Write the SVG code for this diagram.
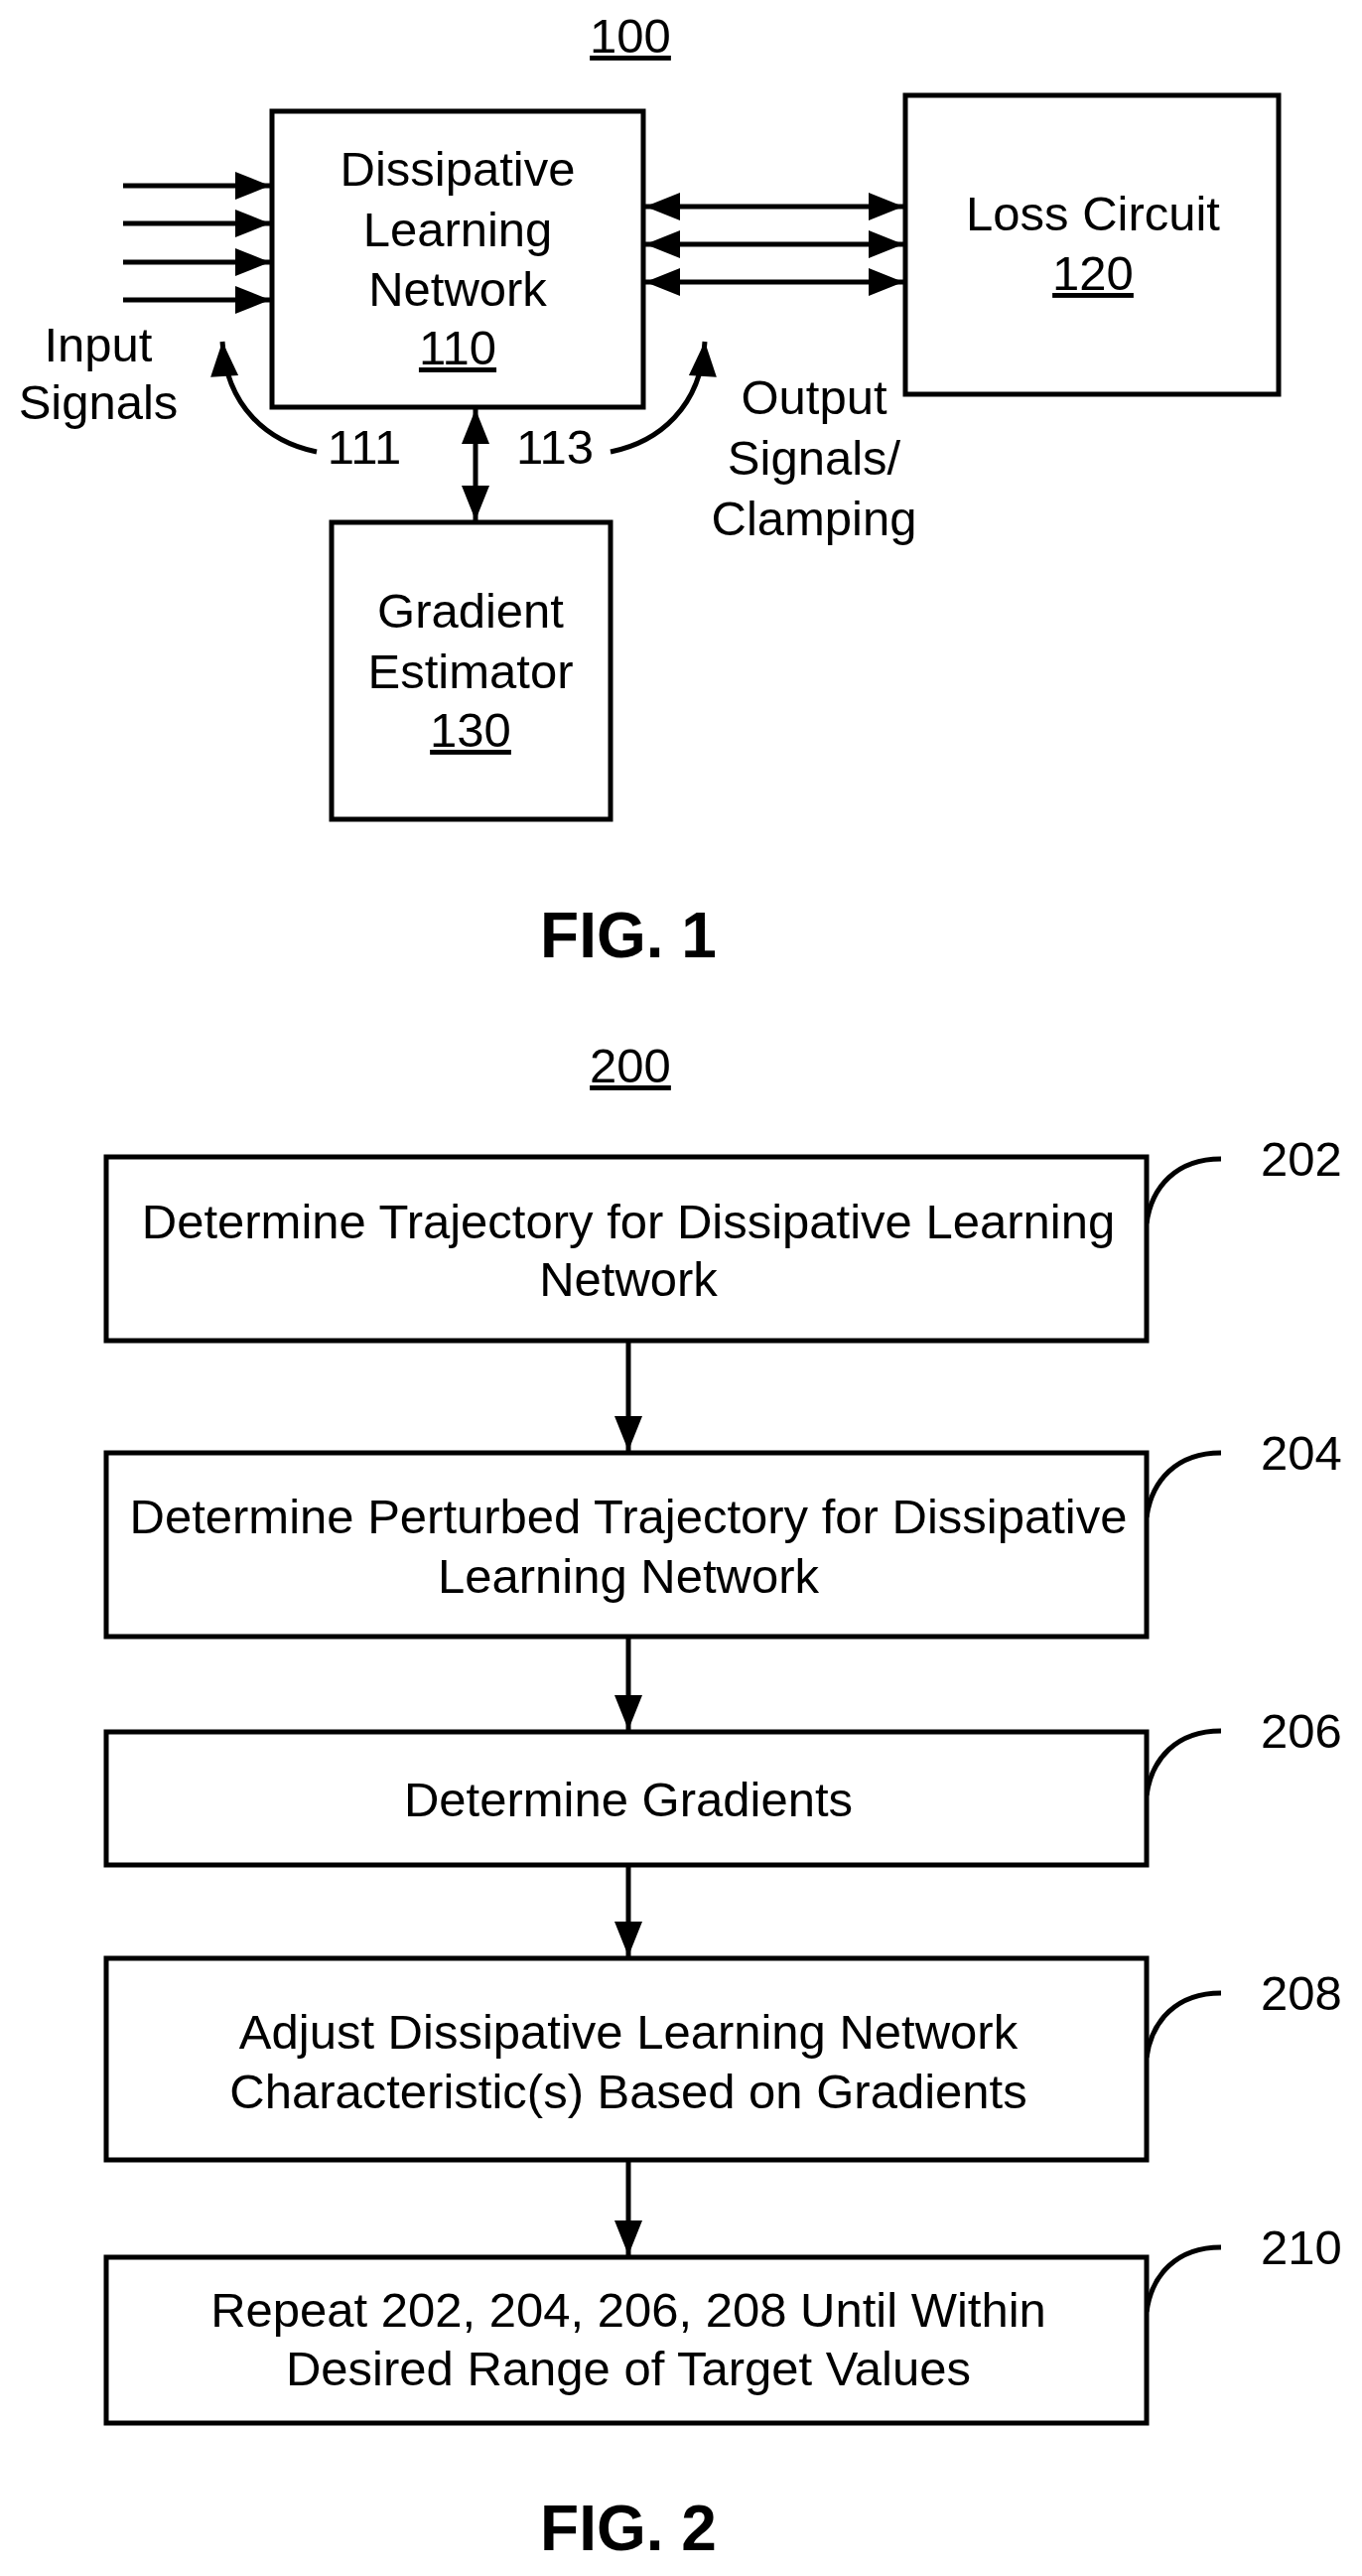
<svg xmlns="http://www.w3.org/2000/svg" width="1372" height="2594" viewBox="0 0 1372 2594">
<defs>
<marker id="ah" viewBox="0 0 10 10" refX="10" refY="5" markerWidth="8" markerHeight="7" orient="auto-start-reverse" markerUnits="strokeWidth"><path d="M0,1 L10,5 L0,9 z" fill="#000"/></marker>
<style>
text{font-family:"Liberation Sans",Arial,sans-serif;font-size:49px;fill:#000;text-anchor:middle}
.b{fill:#fff;stroke:#000;stroke-width:5}
.c{fill:none;stroke:#000;stroke-width:5}
.u{text-decoration:underline}
.fig{font-weight:bold;font-size:64px}
</style>
</defs>
<rect width="1372" height="2594" fill="#fff"/>
<text x="635" y="53" class="u">100</text>
<g id="n110"><rect class="b" x="274" y="112" width="374" height="298"/>
<text x="461" y="187">Dissipative</text><text x="461" y="248">Learning</text><text x="461" y="308">Network</text><text x="461" y="367" class="u">110</text></g>
<g id="n120"><rect class="b" x="912" y="96" width="376" height="301"/>
<text x="1101" y="232">Loss Circuit</text><text x="1101" y="292" class="u">120</text></g>
<g id="n130"><rect class="b" x="334" y="526" width="281" height="299"/>
<text x="474" y="632">Gradient</text><text x="474" y="693">Estimator</text><text x="474" y="752" class="u">130</text></g>
<g id="labels">
<text x="99" y="364">Input</text><text x="99" y="422">Signals</text>
<text x="367" y="467">111</text><text x="559" y="467">113</text>
<text x="820" y="417">Output</text><text x="820" y="478">Signals/</text><text x="820" y="539">Clamping</text>
<text x="633" y="964" class="fig">FIG. 1</text>
<text x="635" y="1090" class="u">200</text>
<text x="633" y="2568" class="fig">FIG. 2</text>
</g>
<g id="connectors">
<line class="c" x1="124" y1="187" x2="272" y2="187" marker-end="url(#ah)"/>
<line class="c" x1="124" y1="225" x2="272" y2="225" marker-end="url(#ah)"/>
<line class="c" x1="124" y1="264" x2="272" y2="264" marker-end="url(#ah)"/>
<line class="c" x1="124" y1="302" x2="272" y2="302" marker-end="url(#ah)"/>
<line class="c" x1="650" y1="208" x2="910" y2="208" marker-start="url(#ah)" marker-end="url(#ah)"/>
<line class="c" x1="650" y1="246" x2="910" y2="246" marker-start="url(#ah)" marker-end="url(#ah)"/>
<line class="c" x1="650" y1="284" x2="910" y2="284" marker-start="url(#ah)" marker-end="url(#ah)"/>
<line class="c" x1="479" y1="412" x2="479" y2="524" marker-start="url(#ah)" marker-end="url(#ah)"/>
<path class="c" d="M319,455 C270,445 228,410 224,344" marker-end="url(#ah)"/>
<path class="c" d="M615,455 C664,445 706,410 710,344" marker-end="url(#ah)"/>
<line class="c" x1="633" y1="1350" x2="633" y2="1461" marker-end="url(#ah)"/>
<line class="c" x1="633" y1="1648" x2="633" y2="1742" marker-end="url(#ah)"/>
<line class="c" x1="633" y1="1878" x2="633" y2="1970" marker-end="url(#ah)"/>
<line class="c" x1="633" y1="2175" x2="633" y2="2271" marker-end="url(#ah)"/>
<path class="c" d="M1155,1232 C1160,1195 1185,1167 1230,1167"/>
<path class="c" d="M1155,1528 C1160,1491 1185,1463 1230,1463"/>
<path class="c" d="M1155,1808 C1160,1771 1185,1743 1230,1743"/>
<path class="c" d="M1155,2072 C1160,2035 1185,2007 1230,2007"/>
<path class="c" d="M1155,2328 C1160,2291 1185,2263 1230,2263"/>
</g>
<g id="n202"><rect class="b" x="107" y="1165" width="1048" height="185"/>
<text x="633" y="1247">Determine Trajectory for Dissipative Learning</text><text x="633" y="1305">Network</text><text x="1311" y="1184">202</text></g>
<g id="n204"><rect class="b" x="107" y="1463" width="1048" height="185"/>
<text x="633" y="1544">Determine Perturbed Trajectory for Dissipative</text><text x="633" y="1604">Learning Network</text><text x="1311" y="1480">204</text></g>
<g id="n206"><rect class="b" x="107" y="1744" width="1048" height="134"/>
<text x="633" y="1829">Determine Gradients</text><text x="1311" y="1760">206</text></g>
<g id="n208"><rect class="b" x="107" y="1972" width="1048" height="203"/>
<text x="633" y="2063">Adjust Dissipative Learning Network</text><text x="633" y="2123">Characteristic(s) Based on Gradients</text><text x="1311" y="2024">208</text></g>
<g id="n210"><rect class="b" x="107" y="2273" width="1048" height="167"/>
<text x="633" y="2343">Repeat 202, 204, 206, 208 Until Within</text><text x="633" y="2402">Desired Range of Target Values</text><text x="1311" y="2280">210</text></g>
</svg>
